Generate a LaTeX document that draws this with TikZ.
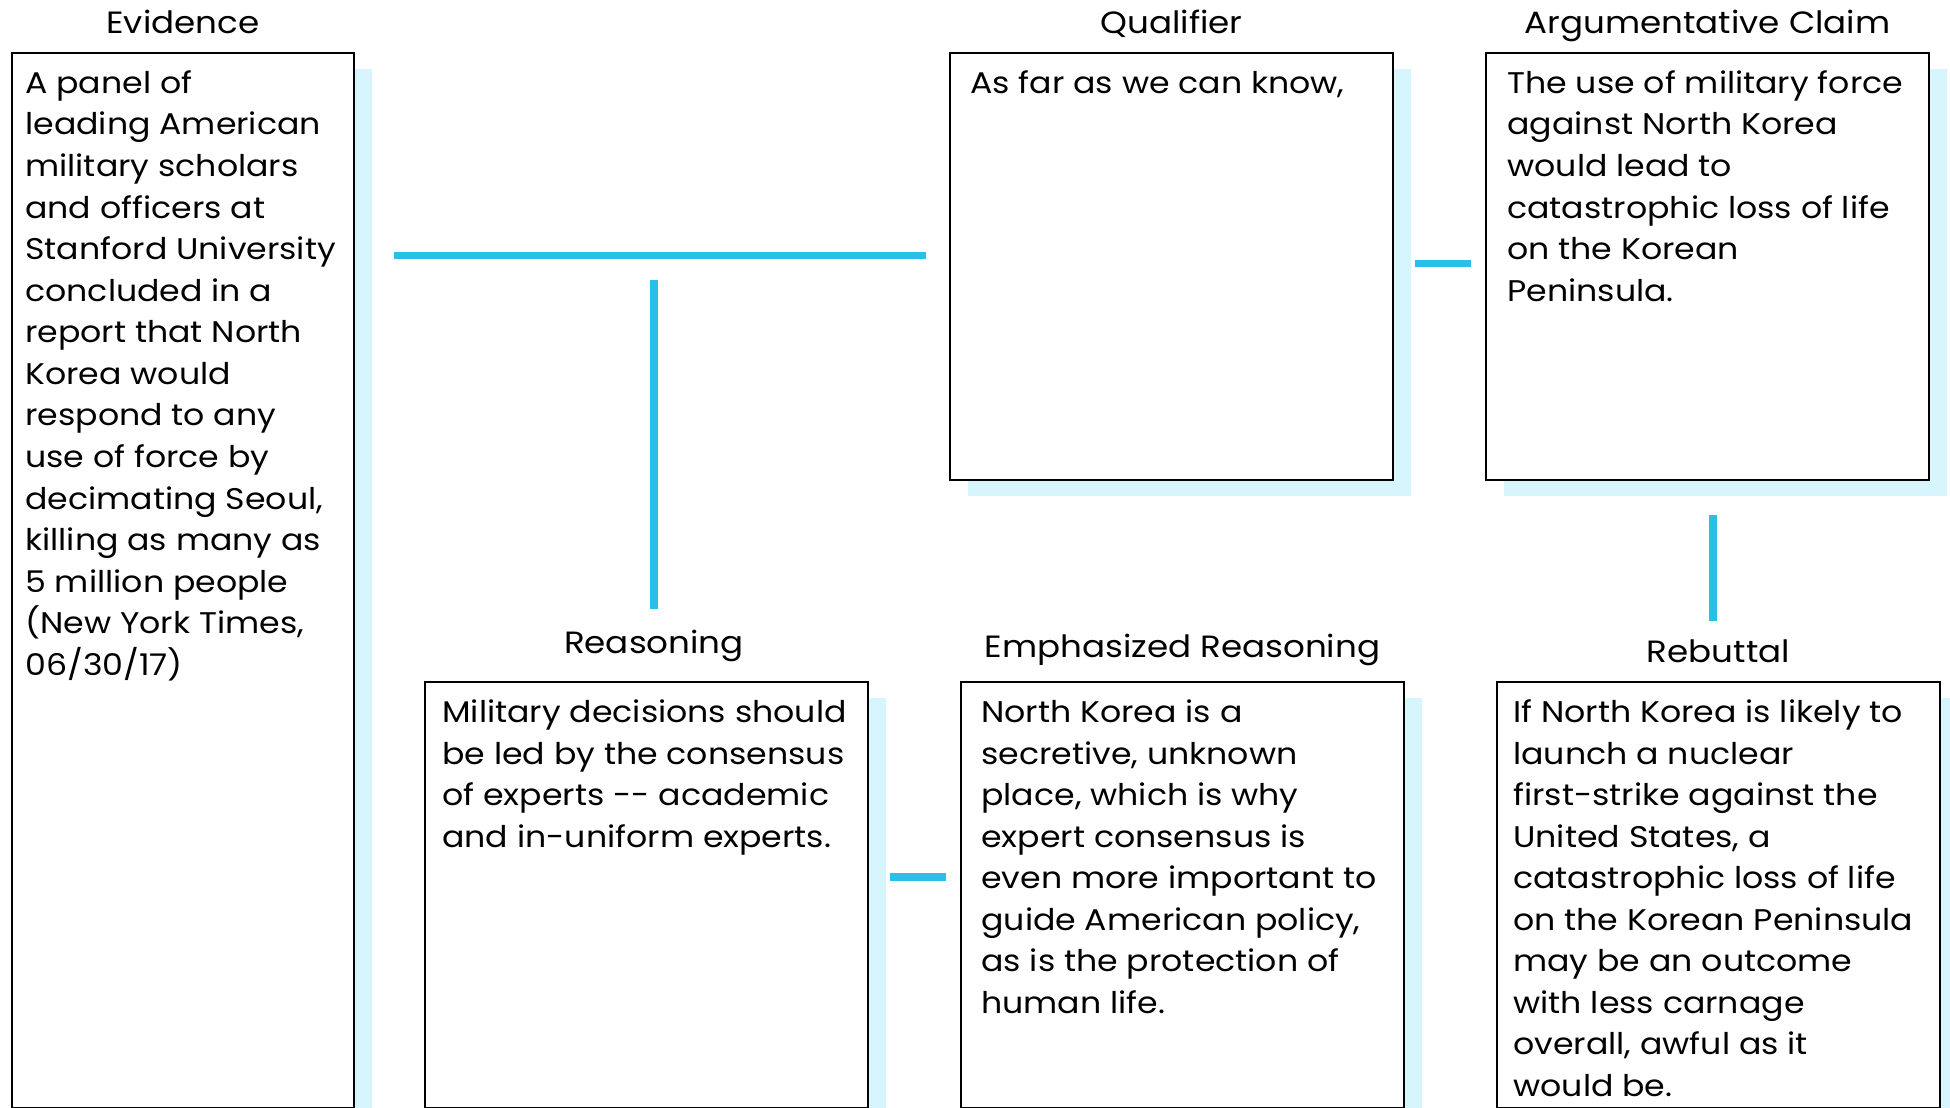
\documentclass[tikz,border=0pt]{standalone}
\usepackage{fontspec}
\setmainfont[FakeStretch=1.11]{Poppins}
\usepackage{xcolor}
\usepackage{tikz}
\definecolor{linkcyan}{RGB}{40, 192, 228}
\definecolor{shadecyan}{RGB}{215, 245, 253}
\usetikzlibrary{positioning, shadows}

\begin{document}
\begin{tikzpicture}[
    font=\fontsize{17}{23.65}\selectfont,
    card/.style={rectangle, draw=black, line width=1.1pt, fill=white, anchor=north west,
        minimum width=8.86cm, minimum height=8.54cm,
        drop shadow={shadow xshift=0.36cm, shadow yshift=-0.32cm, fill=shadecyan, opacity=1}},
    body/.style={anchor=north west, inner sep=0pt, align=left},
    title/.style={inner sep=0pt, text depth=0pt, font=\fontsize{17.5}{21}\selectfont},
    link/.style={draw=linkcyan, line width=4.4pt},
]
    \path[use as bounding box, clip] (0,0) rectangle (39,22.14);

    % Evidence
    \node[card, minimum width=6.84cm, minimum height=21.1cm] (evid) at (0.22, 21.1) {};
    \node[title, above=0.36cm of evid] (evidhead) {Evidence};
    \node[body] (evidtext) at ([shift={(0.28,-0.24)}]evid.north west) {\strut A panel of\\
        leading American\\
        military scholars\\
        and officers at\\
        Stanford University\\
        concluded in a\\
        report that North\\
        Korea would\\
        respond to any\\
        use of force by\\
        decimating Seoul,\\
        killing as many as\\
        5 million people\\
        (New York Times,\\
        06/30/17)};

    % Qualifier
    \node[card] (qual) at (18.98, 21.1) {};
    \node[title, above=0.36cm of qual] (qualhead) {Qualifier};
    \node[body] (qualtext) at ([shift={(0.42,-0.24)}]qual.north west) {\strut As far as we can know,};

    % Argumentative claim
    \node[card] (claim) at (29.7, 21.1) {};
    \node[title, above=0.36cm of claim] (claimhead) {Argumentative Claim};
    \node[body] (claimtext) at ([shift={(0.44,-0.24)}]claim.north west) {\strut The use of military force\\
        against North Korea\\
        would lead to\\
        catastrophic loss of life\\
        on the Korean\\
        Peninsula.};

    % Reasoning
    \node[card, minimum height=8.52cm] (reas) at (8.48, 8.52) {};
    \node[title, above=0.54cm of reas, xshift=0.15cm] (reashead) {Reasoning};
    \node[body] (reastext) at ([shift={(0.36,-0.24)}]reas.north west) {\strut Military decisions should\\
        be led by the consensus\\
        of experts -{}- academic\\
        and in-uniform experts.};

    % Emphasized reasoning
    \node[card, minimum height=8.52cm] (emph) at (19.2, 8.52) {};
    \node[title, above=0.46cm of emph] (emphhead) {Emphasized Reasoning};
    \node[body] (emphtext) at ([shift={(0.42,-0.24)}]emph.north west) {\strut North Korea is a\\
        secretive, unknown\\
        place, which is why\\
        expert consensus is\\
        even more important to\\
        guide American policy,\\
        as is the protection of\\
        human life.};

    % Rebuttal
    \node[card, minimum height=8.52cm] (reb) at (29.92, 8.52) {};
    \node[title, above=0.36cm of reb] (rebhead) {Rebuttal};
    \node[body] (rebtext) at ([shift={(0.34,-0.24)}]reb.north west) {\strut If North Korea is likely to\\
        launch a nuclear\\
        first-strike against the\\
        United States, a\\
        catastrophic loss of life\\
        on the Korean Peninsula\\
        may be an outcome\\
        with less carnage\\
        overall, awful as it\\
        would be.};

    % Connectors
    \coordinate (evidbar) at ([yshift=0.22cm]qual.west);
    \coordinate (claimfoot) at ([xshift=0.11cm]claim.south);
    \draw[link, shorten <=0.78cm, shorten >=0.46cm] (evidbar -| evid.east) -- (evidbar);
    \draw[link, shorten <=0.49cm, shorten >=0.41cm] (reashead |- evidbar) -- (reashead.north);
    \draw[link, shorten <=0.42cm, shorten >=0.28cm] ([yshift=0.06cm]qual.east) -- ([yshift=0.06cm]claim.west);
    \draw[link, shorten <=0.68cm, shorten >=0.38cm] (claimfoot) -- (claimfoot |- rebhead.north);
    \draw[link, shorten <=0.42cm, shorten >=0.28cm] ([yshift=0.36cm]reas.east) -- ([yshift=0.36cm]emph.west);

\end{tikzpicture}
\end{document}
